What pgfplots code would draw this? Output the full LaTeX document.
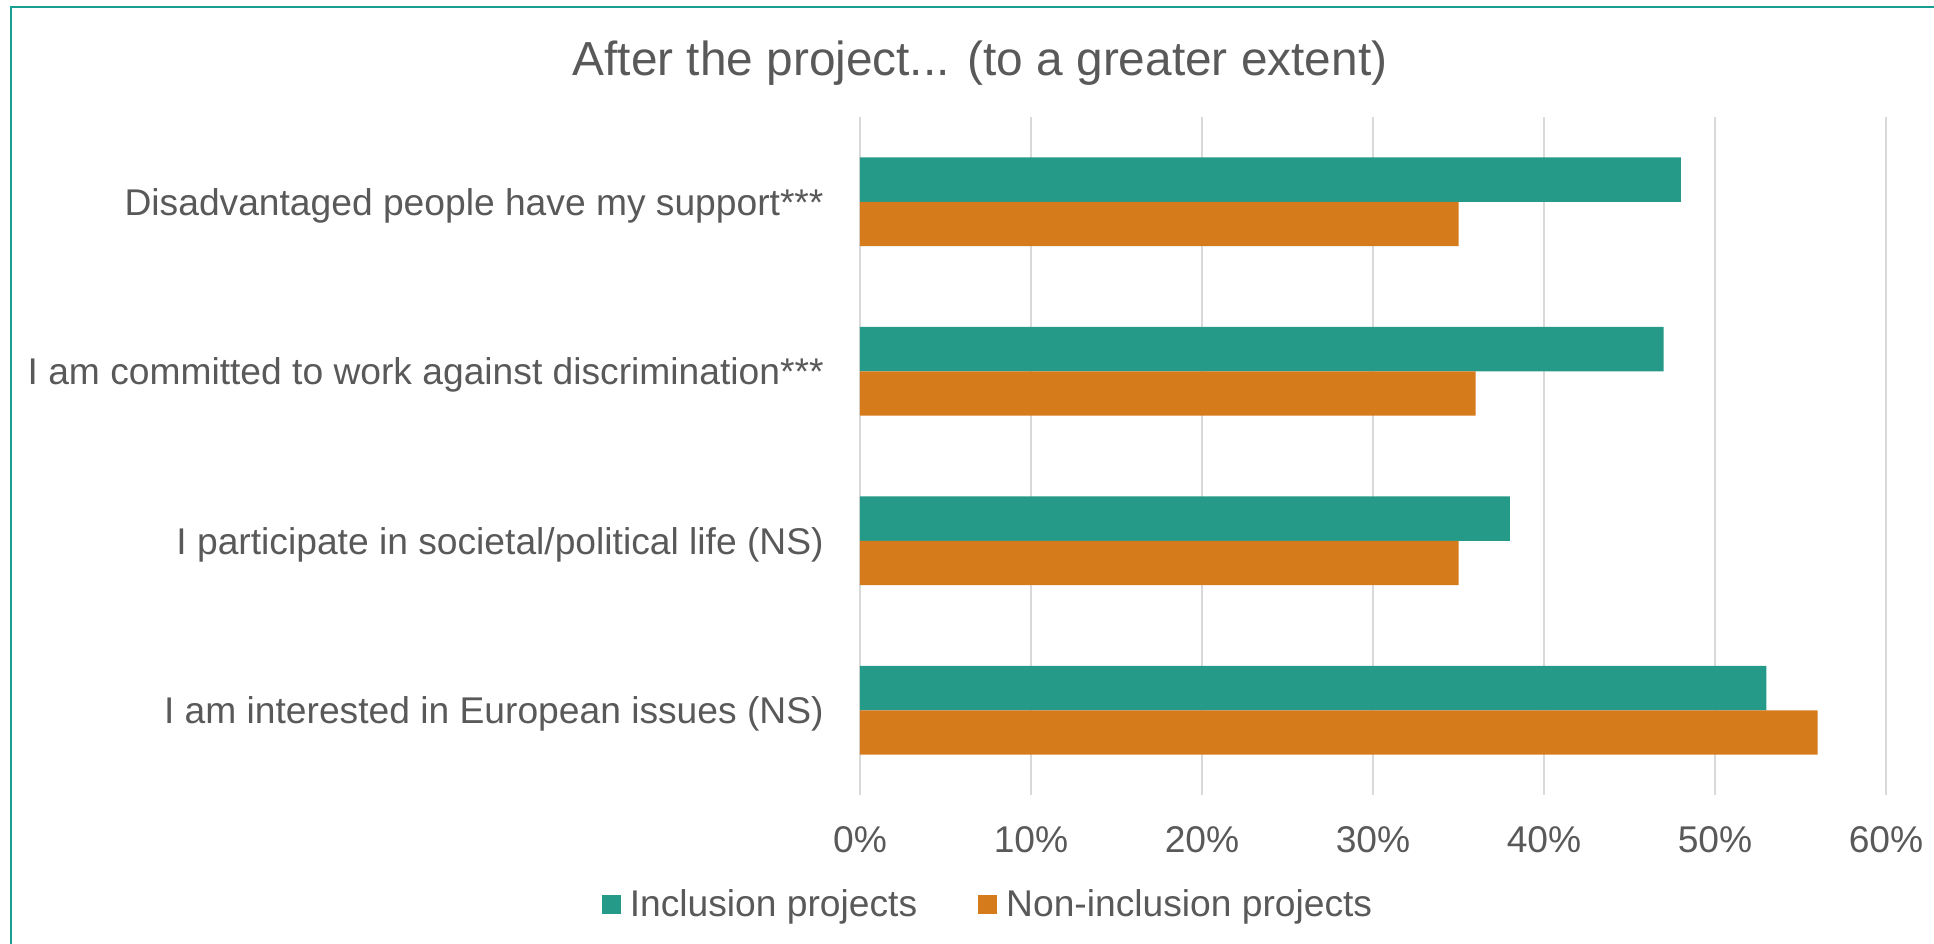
\documentclass[border=0pt]{standalone}
\usepackage{fontspec}
\setmainfont{Liberation Sans}
\usepackage{pgfplots}
\pgfplotsset{compat=1.18}
\definecolor{tealbar}{HTML}{269A89}
\definecolor{orangebar}{HTML}{D67B1C}
\definecolor{framecol}{HTML}{1A9E8F}
\definecolor{txt}{HTML}{595959}
\definecolor{gridcol}{HTML}{D9D9D9}
\begin{document}
\begin{tikzpicture}[x=1pt,y=1pt]
\useasboundingbox (0,0) rectangle (967,471.5);
\draw[framecol, line width=1pt] (5.5,-10) -- (5.5,468) -- (990,468);
\node[anchor=base, text=txt, font=\fontsize{23.9}{28}\selectfont] at (490,433.5) {After the project... (to a greater extent)};
\begin{axis}[
  at={(430pt,74pt)}, anchor=south west,
  scale only axis, width=513pt, height=339pt,
  xbar, bar width=0.262,
  xmin=0, xmax=60, ymin=-0.5, ymax=3.5,
  xtick={0,10,...,60},
  xticklabel={\pgfmathprintnumber{\tick}\%},
  ytick={0,1,2,3},
  yticklabels={I am interested in European issues (NS),
               I participate in societal/political life (NS),
               I am committed to work against discrimination***,
               Disadvantaged people have my support***},
  xmajorgrids, grid style={gridcol, line width=0.75pt},
  axis line style={draw=none}, major tick length=0pt,
  tick label style={text=txt, font=\fontsize{18.6}{22}\selectfont},
  /pgf/number format/assume math mode=true,
  xticklabel style={anchor=base, yshift=-28.5pt},
  yticklabel style={anchor=base east, inner sep=0pt, xshift=-18pt, yshift=-6.75pt},
  legend columns=2,
  legend style={at={(axis description cs:0.1238,-0.1608)}, anchor=center,
    draw=none, fill=none, text=txt, font=\fontsize{18.6}{22}\selectfont,
    inner sep=0pt, nodes={inner sep=0pt},
    /tikz/every odd column/.append style={column sep=4.5pt},
    /tikz/every even column/.append style={column sep=30.5pt}},
  legend image code/.code={\fill[#1] (0pt,-4.75pt) rectangle (9.5pt,4.75pt);},
  legend cell align=left,
]
\addplot[fill=tealbar, draw=none, bar shift=0.131] coordinates {(53,0) (38,1) (47,2) (48,3)};
\addplot[fill=orangebar, draw=none, bar shift=-0.131] coordinates {(56,0) (35,1) (36,2) (35,3)};
\legend{Inclusion projects, Non-inclusion projects}
\end{axis}
\end{tikzpicture}
\end{document}
